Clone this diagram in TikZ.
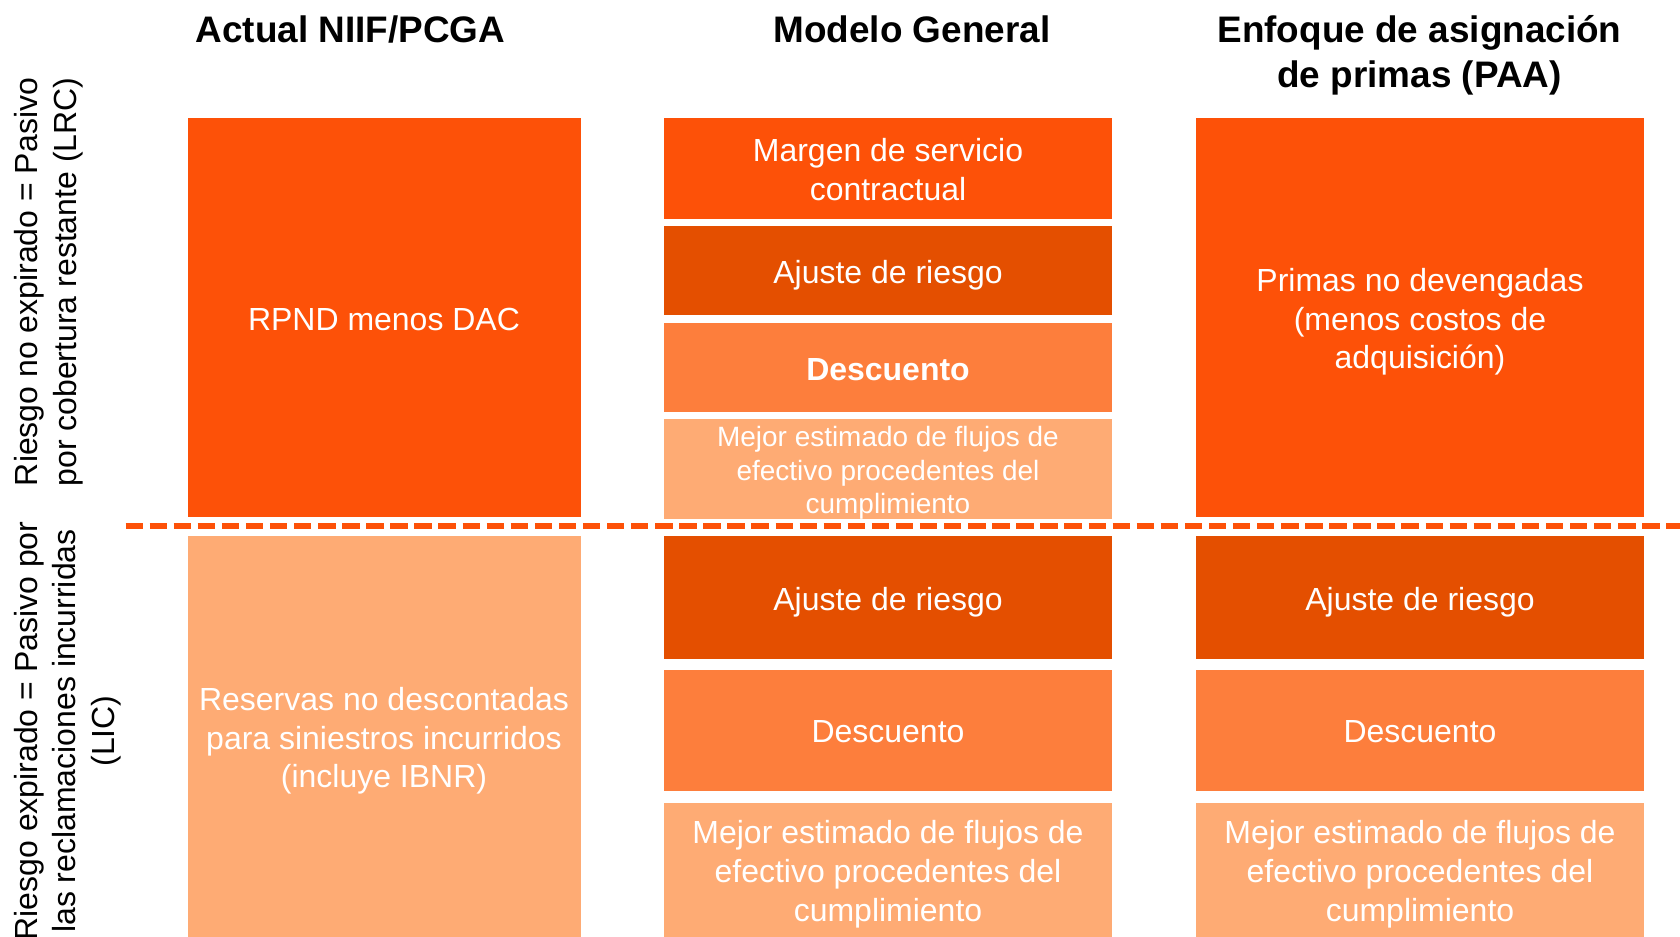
\documentclass[tikz,border=0pt]{standalone}
\usepackage{fontspec}
\setmainfont{Liberation Sans}
\definecolor{pwcOrange}{HTML}{FD5108}
\definecolor{pwcDark}{HTML}{E44F00}
\definecolor{pwcMid}{HTML}{FD7E3C}
\definecolor{pwcLight}{HTML}{FEAB74}
\newcommand{\cellstrut}{\rule{0pt}{1em}}
\begin{document}
\begin{tikzpicture}[
    header/.style={font=\fontsize{21}{25.6}\selectfont\bfseries, align=center, inner sep=0pt},
    block/.style={rectangle, inner sep=0pt, text=white, align=center, font=\fontsize{18.2}{22}\selectfont,
        execute at begin node={\rule{0pt}{1em}}, execute at end node={\rule[-0.212em]{0pt}{0.212em}}},
    side/.style={rotate=90, align=center, inner sep=0pt, font=\fontsize{18.2}{22}\selectfont},
    small/.style={font=\fontsize{15.9}{18.8}\selectfont},
    narrow/.style={minimum width=7.86cm},
    broad/.style={minimum width=8.96cm},
    strong/.style={fill=pwcOrange},
    deep/.style={fill=pwcDark},
    overlap/.style={fill=pwcMid},
    weak/.style={fill=pwcLight}
]

\useasboundingbox (0,0) rectangle (33.6,-18.74);

% Headers
\node[header, anchor=base] (hActual) at (7.01,-0.86) {Actual NIIF/PCGA};
\node[header, anchor=base] (hModelo) at (18.24,-0.86) {Modelo General};
\node[header, anchor=north] (hPAA) at (28.39,-0.31) {Enfoque de asignación\\de primas (PAA)};

% Row headers
\node[side] (sLRC) at (0.98,-5.64) {Riesgo no expirado = Pasivo\\por cobertura restante (LRC)};
\node[side] (sLIC) at (1.35,-14.62) {Riesgo expirado = Pasivo por\\las reclamaciones incurridas\\(LIC)};

% Actual NIIF/PCGA
\node[block, narrow, strong, minimum height=7.99cm] (aRPND) at (7.68,-6.35) {RPND menos DAC};
\node[block, narrow, weak, minimum height=8.04cm] (aRes) at (7.68,-14.73) {\cellstrut Reservas no descontadas\\para siniestros incurridos\\(incluye IBNR)};

% Modelo General
\node[block, broad, strong, minimum height=2.01cm] (mMargen) at (17.76,-3.37) {\cellstrut Margen de servicio\\contractual};
\node[block, broad, deep, minimum height=1.78cm] (mAjuste) at (17.76,-5.41) {Ajuste de riesgo};
\node[block, broad, overlap, minimum height=1.76cm, font=\fontsize{18.2}{22}\selectfont\bfseries] (mDesc) at (17.76,-7.35) {Descuento};
\node[block, broad, weak, small, minimum height=1.95cm] (mMejor) at (17.76,-9.38) {\cellstrut Mejor estimado de flujos de\\efectivo procedentes del\\cumplimiento};
\node[block, broad, deep, minimum height=2.46cm] (mAjusteL) at (17.76,-11.95) {Ajuste de riesgo};
\node[block, broad, overlap, minimum height=2.42cm] (mDescL) at (17.76,-14.60) {Descuento};
\node[block, broad, weak, minimum height=2.70cm] (mMejorL) at (17.76,-17.40) {\cellstrut Mejor estimado de flujos de\\efectivo procedentes del\\cumplimiento};

% Enfoque PAA
\node[block, broad, strong, minimum height=7.99cm] (pPrimas) at (28.40,-6.35) {\cellstrut Primas no devengadas\\(menos costos de\\adquisición)};
\node[block, broad, deep, minimum height=2.46cm] (pAjuste) at (28.40,-11.95) {Ajuste de riesgo};
\node[block, broad, overlap, minimum height=2.42cm] (pDesc) at (28.40,-14.60) {Descuento};
\node[block, broad, weak, minimum height=2.70cm] (pMejor) at (28.40,-17.40) {\cellstrut Mejor estimado de flujos de\\efectivo procedentes del\\cumplimiento};

% Divider
\coordinate (dStart) at (2.51,-10.52);
\coordinate (dEnd) at (33.6,-10.52);
\draw[pwcOrange, line width=2.85pt, dash pattern=on 9.9pt off 3.8pt] (dStart) -- (dEnd);

\end{tikzpicture}
\end{document}
